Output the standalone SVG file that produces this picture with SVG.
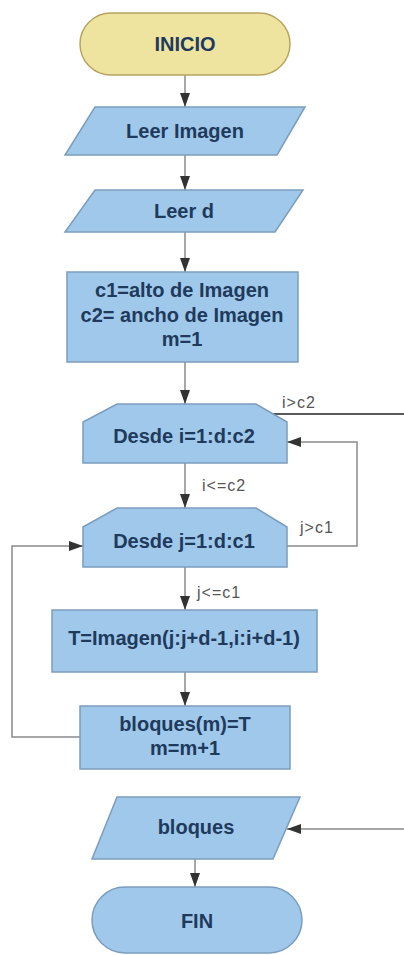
<svg xmlns="http://www.w3.org/2000/svg" width="404" height="955" viewBox="0 0 404 955">
<style>
.n{fill:#a0c8ea;stroke:#7b9dbd;stroke-width:1.5}
.t{font-family:"Liberation Sans",Arial,sans-serif;font-weight:bold;font-size:20px;fill:#1e3a5c;text-anchor:middle}
.c{fill:none;stroke:#8a8a8a;stroke-width:1.5}
.k{fill:none;stroke:#222;stroke-width:1.5}
.l{font-family:"Liberation Sans",Arial,sans-serif;font-size:16px;fill:#555;letter-spacing:1px}
</style>
<defs>
<marker id="a" viewBox="0 0 14 10" markerWidth="14" markerHeight="10" refX="14" refY="5" orient="auto" markerUnits="userSpaceOnUse">
<path d="M0,0 L14,5 L0,10 z" fill="#333"/>
</marker>
</defs>
<rect width="404" height="955" fill="#ffffff"/>
<g id="connectors">
<line class="c" x1="185" y1="75" x2="185" y2="107" marker-end="url(#a)"/>
<line class="c" x1="185" y1="155" x2="185" y2="190" marker-end="url(#a)"/>
<line class="c" x1="185" y1="232" x2="185" y2="272" marker-end="url(#a)"/>
<line class="c" x1="185" y1="362" x2="185" y2="404" marker-end="url(#a)"/>
<line class="c" x1="185" y1="463" x2="185" y2="508" marker-end="url(#a)"/>
<line class="c" x1="185" y1="567" x2="185" y2="610" marker-end="url(#a)"/>
<line class="c" x1="185" y1="672" x2="185" y2="706" marker-end="url(#a)"/>
<line class="c" x1="195" y1="859" x2="195" y2="887" marker-end="url(#a)"/>
<line class="k" x1="272" y1="414" x2="404" y2="414"/>
<polyline class="c" points="287,546 357,546 357,442 287,442" marker-end="url(#a)"/>
<polyline class="c" points="80,737 12,737 12,546 83,546" marker-end="url(#a)"/>
<line class="c" x1="404" y1="829" x2="287" y2="829" marker-end="url(#a)"/>
<text class="l" x="282" y="408">i&gt;c2</text>
<text class="l" x="202" y="491">i&lt;=c2</text>
<text class="l" x="300" y="533">j&gt;c1</text>
<text class="l" x="197" y="598">j&lt;=c1</text>
</g>
<g id="inicio">
<rect x="80" y="13" width="210" height="62" rx="31" fill="#efe3a0" stroke="#b5a560" stroke-width="1.5"/>
<text class="t" x="185" y="51">INICIO</text>
</g>
<g id="leer-imagen">
<polygon class="n" points="95,107 305,107 277,155 65,155"/>
<text class="t" x="185" y="138">Leer Imagen</text>
</g>
<g id="leer-d">
<polygon class="n" points="95,190 303,190 275,232 65,232"/>
<text class="t" x="184" y="218">Leer d</text>
</g>
<g id="init">
<rect class="n" x="67" y="272" width="231" height="90"/>
<text class="t" x="182" y="297">c1=alto de Imagen</text>
<text class="t" x="182" y="322">c2= ancho de Imagen</text>
<text class="t" x="182" y="346">m=1</text>
</g>
<g id="desde-i">
<polygon class="n" points="117,404 256,404 287,422 287,463 83,463 83,422"/>
<text class="t" x="184" y="443">Desde i=1:d:c2</text>
</g>
<g id="desde-j">
<polygon class="n" points="117,508 256,508 287,527 287,567 83,567 83,527"/>
<text class="t" x="184" y="548">Desde j=1:d:c1</text>
</g>
<g id="t-assign">
<rect class="n" x="52" y="610" width="265" height="62"/>
<text class="t" x="184" y="645">T=Imagen(j:j+d-1,i:i+d-1)</text>
</g>
<g id="bloques-assign">
<rect class="n" x="80" y="706" width="210" height="63"/>
<text class="t" x="185" y="731">bloques(m)=T</text>
<text class="t" x="185" y="755">m=m+1</text>
</g>
<g id="bloques-out">
<polygon class="n" points="117,797 300,797 273,859 92,859"/>
<text class="t" x="196" y="834">bloques</text>
</g>
<g id="fin">
<rect class="n" x="92" y="887" width="210" height="66" rx="33"/>
<text class="t" x="197" y="928">FIN</text>
</g>
</svg>
